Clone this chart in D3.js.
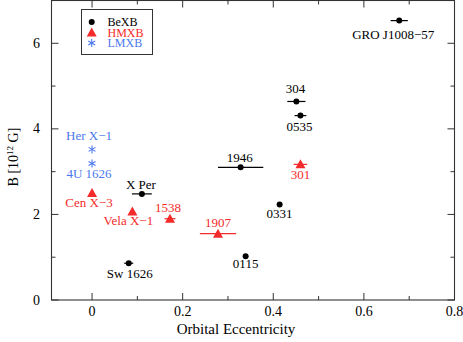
<!DOCTYPE html>
<html><head><meta charset="utf-8">
<script src="https://cdn.jsdelivr.net/npm/d3@7"></script>
<style>body{margin:0;background:#fff}svg{display:block;font-family:"Liberation Serif","Times New Roman",serif}</style>
</head><body><svg id="c" width="463" height="342"></svg>
<script>
// Data
const bexbNames = ["GRO J1008\u221257","304","0535","1946","0331","0115","X Per","Sw 1626"];
const bexbEcc   = [0.678,0.451,0.460,0.328,0.414,0.339,0.110,0.081];
const bexbB     = [6.53,4.64,4.31,3.10,2.23,1.02,2.48,0.86];
const bexbErr   = [0.019,0.020,0.013,0.050,0,0,0.022,0.010];
const hmxbNames = ["Cen X\u22123","Vela X\u22121","1538","1907","301"];
const hmxbEcc   = [0.0,0.089,0.172,0.278,0.460];
const hmxbB     = [2.50,2.07,1.90,1.55,3.17];
const hmxbErr   = [0,0,0.012,0.040,0.015];
const lmxbNames = ["Her X\u22121","4U 1626"];
const lmxbEcc   = [0.0,0.0];
const lmxbB     = [3.52,3.19];
const xTicks = [0,0.2,0.4,0.6,0.8];
const yTicks = [0,2,4,6];
const legendLabels = ["BeXB","HMXB","LMXB"];

const RED = "#f52a2a", BLUE = "#4a78ee";
const svg = d3.select("#c");
const L=51.5, R=454.5, T=0.5, B=300;
const x = d3.scaleLinear().domain([-0.0895,0.8]).range([L,R]);
const y = d3.scaleLinear().domain([0,7]).range([B,T]);

const g = svg.append("g");
// frame
g.append("rect").attr("x",L).attr("y",T).attr("width",R-L).attr("height",B-T)
 .attr("fill","none").attr("stroke","#333").attr("stroke-width",1.1);

const xMinor = d3.range(-0.0,0.81,0.1).map(v=>+v.toFixed(1));
const yMinor = d3.range(0,7.01,1);
// ticks
xMinor.forEach(v=>{const big = xTicks.some(t=>Math.abs(t-v)<1e-6); const len= big?7:4;
  g.append("line").attr("x1",x(v)).attr("x2",x(v)).attr("y1",B).attr("y2",B-len).attr("stroke","#333");
  g.append("line").attr("x1",x(v)).attr("x2",x(v)).attr("y1",T).attr("y2",T+len).attr("stroke","#333");
});
yMinor.forEach(v=>{const big = yTicks.includes(v); const len= big?7:4;
  g.append("line").attr("y1",y(v)).attr("y2",y(v)).attr("x1",L).attr("x2",L+len).attr("stroke","#333");
  g.append("line").attr("y1",y(v)).attr("y2",y(v)).attr("x1",R).attr("x2",R-len).attr("stroke","#333");
});
// tick labels
xTicks.forEach(v=>g.append("text").attr("x",x(v)).attr("y",316).attr("text-anchor","middle")
  .attr("font-size",14).text(d3.format("")(v)));
yTicks.forEach(v=>g.append("text").attr("x",40).attr("y",y(v)+4.5).attr("text-anchor","end")
  .attr("font-size",14).text(v));
// axis titles
g.append("text").attr("x",236).attr("y",334).attr("text-anchor","middle").attr("font-size",15).text("Orbital Eccentricity");
const yt = g.append("text").attr("transform","translate(18,157) rotate(-90)").attr("text-anchor","middle").attr("font-size",14);
yt.append("tspan").text("B [10");
yt.append("tspan").attr("font-size",9).attr("dy",-5).text("12");
yt.append("tspan").attr("dy",5).text(" G]");

// marker helpers
function dot(cx,cy,col){g.append("circle").attr("cx",cx).attr("cy",cy).attr("r",3).attr("fill",col);}
function tri(cx,cy,col){g.append("path").attr("d",`M${cx},${cy-5}L${cx+5},${cy+4}L${cx-5},${cy+4}Z`).attr("fill",col);}
function star(cx,cy,col){const r=4;[0,60,120].forEach(a=>{const ra=a*Math.PI/180;
  g.append("line").attr("x1",cx+r*Math.sin(ra)).attr("y1",cy-r*Math.cos(ra)).attr("x2",cx-r*Math.sin(ra)).attr("y2",cy+r*Math.cos(ra)).attr("stroke",col).attr("stroke-width",1.1);});}
function ebar(xv,yv,e,col){ if(e>0) g.append("line").attr("x1",x(xv-e)).attr("x2",x(xv+e)).attr("y1",y(yv)).attr("y2",y(yv)).attr("stroke",col).attr("stroke-width",1.2);}

bexbEcc.forEach((e,i)=>{ebar(e,bexbB[i],bexbErr[i],"#000");dot(x(e),y(bexbB[i]),"#000");});
hmxbEcc.forEach((e,i)=>{ebar(e,hmxbB[i],hmxbErr[i],RED);tri(x(e),y(hmxbB[i]),RED);});
lmxbEcc.forEach((e,i)=>star(x(e),y(lmxbB[i]),BLUE));

// point labels [dx, dy offsets relative to point]
const bexbLab = [[-6,18],[-1,-8],[-1,15],[-1,-5],[0,13],[0,12],[-1,-5],[1,15]];
const hmxbLab = [[-3,14],[-4,14],[-2,-7],[0,-7],[0,15]];
const lmxbLab = [[-3,-9],[-3,14]];
function lab(px,py,d,t,col){g.append("text").attr("x",px+d[0]).attr("y",py+d[1]).attr("text-anchor","middle").attr("font-size",13).attr("fill",col).text(t);}
bexbNames.forEach((n,i)=>lab(x(bexbEcc[i]),y(bexbB[i]),bexbLab[i],n,"#000"));
hmxbNames.forEach((n,i)=>lab(x(hmxbEcc[i]),y(hmxbB[i]),hmxbLab[i],n,RED));
lmxbNames.forEach((n,i)=>lab(x(lmxbEcc[i]),y(lmxbB[i]),lmxbLab[i],n,BLUE));

// legend
g.append("rect").attr("x",81.5).attr("y",9.5).attr("width",71).attr("height",45).attr("fill","#fff").attr("stroke","#333");
const lc=["#000",RED,BLUE], ly=[22,32.5,43];
legendLabels.forEach((t,i)=>{
  if(i===0) dot(91.7,ly[i],lc[i]); else if(i===1) tri(91.7,ly[i],lc[i]); else star(91.7,ly[i],lc[i]);
  g.append("text").attr("x",107.5).attr("y",ly[i]+4).attr("font-size",12).attr("fill",lc[i]).text(t);
});
</script></body></html>
